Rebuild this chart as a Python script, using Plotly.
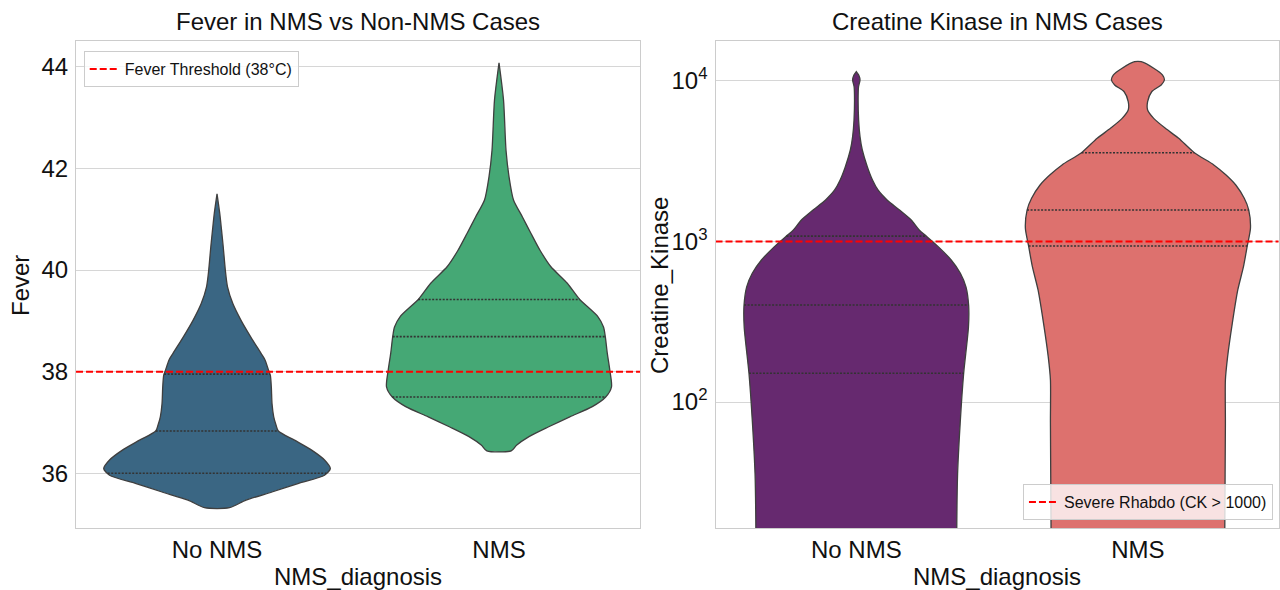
import numpy as np
import plotly.graph_objects as go

categories = ["No NMS", "NMS"]

# Fever violins: levels (°C) and density half-width (px-proportional)
fever_no_levels = [35.32, 35.47, 35.63, 35.80, 35.96, 36.09, 36.26, 36.45, 36.65, 36.83, 36.95,
                   37.11, 37.37, 37.70, 37.93, 38.03, 38.23, 38.36, 38.69, 39.01, 39.34, 39.67,
                   40.00, 40.46, 40.79, 41.12, 41.50]
fever_no_density = [12.5, 29, 55, 81.7, 107.5, 113.3, 107.5, 95, 77.5, 61.3, 59,
                    56.7, 55, 54.3, 53.3, 51.5, 48, 44, 33.5, 24, 15.8, 10.5,
                    8.3, 6.2, 4.5, 2.7, 0]
fever_nms_levels = [36.44, 36.55, 36.72, 36.91, 37.11, 37.31, 37.50, 37.70, 38.03, 38.36, 38.69,
                    38.88, 39.08, 39.43, 39.74, 40.07, 40.39, 40.72, 41.05, 41.38, 41.84, 42.36,
                    43.35, 44.08]
fever_nms_density = [12.2, 17.5, 30, 49.2, 70.8, 93.3, 106.7, 112.5, 110.8, 108.3, 106.3,
                     104.5, 99, 80.3, 68.3, 51.7, 41, 32, 23.3, 14.5, 10, 7,
                     4.5, 0]
fever_no_quartiles = [36.00, 36.83, 37.95]
fever_nms_quartiles = [37.50, 38.69, 39.42]

# Creatine kinase violins (CK units, log axis)
ck_no_levels = [12.6, 16.4, 35.5, 73.6, 151, 294, 398, 522, 634, 767, 929, 1081, 1180, 1361,
                1570, 1816, 2094, 2415, 2924, 3715, 4498, 5715, 7621, 9204, 10139, 10839, 11429]
ck_no_density = [100.6, 100.6, 101.4, 104, 107.5, 112.3, 112.5, 109.8, 104.2, 95, 82, 70, 63, 55,
                 43.3, 30.8, 21.7, 16.2, 11, 6, 3.7, 2.3, 1.8, 2.2, 3.7, 2.5, 0]
ck_nms_levels = [12.6, 16.4, 73.6, 137, 191, 309, 499, 697, 938, 1208, 1570, 1858, 2249, 2594,
                 2999, 3573, 4395, 5070, 5848, 6592, 7430, 8570, 9441, 10139, 10889, 11995, 13183]
ck_nms_density = [87, 87, 87.6, 87.6, 89.8, 94.5, 100, 105.7, 109.5, 112.7, 111, 106.5, 98, 88.3,
                  76, 56.5, 40.8, 27.5, 15.8, 9.7, 9.7, 13.8, 23.3, 26.5, 24.7, 15.8, 3.3]
ck_no_quartiles = [151, 402, 1081]
ck_nms_quartiles = [938, 1570, 3573]

fever_threshold = 38
ck_threshold = 1000

colors_fever = ["#3A6683", "#45A875"]
colors_ck = ["#66296F", "#DD716E"]

FONT = "Liberation Sans, Arial, sans-serif"
TXT = "#111111"
EDGE = "#3f3f3f"
GRID = "#d6d6d6"
HALF = 0.4
DMAX = 112.8

fig = go.Figure()


def add_violin(center, levels, dens, quarts, color, xa, ya, log=False):
    d = np.array(dens, dtype=float) / DMAX * HALF
    lv = np.array(levels, dtype=float)
    xs = list(center - d) + list(center + d[::-1]) + [center - d[0]]
    ys = list(lv) + list(lv[::-1]) + [lv[0]]
    fig.add_trace(go.Scatter(x=xs, y=ys, mode="lines", fill="toself", fillcolor=color,
                             line=dict(color=EDGE, width=1.3, shape="spline", smoothing=0.7),
                             showlegend=False, hoverinfo="skip", xaxis=xa, yaxis=ya))
    for q in quarts:
        if log:
            w = np.interp(np.log10(q), np.log10(lv), d)
        else:
            w = np.interp(q, lv, d)
        fig.add_trace(go.Scatter(x=[center - w, center + w], y=[q, q], mode="lines",
                                 line=dict(color="#333333", width=1.6, dash="2px,1.5px"),
                                 showlegend=False, hoverinfo="skip", xaxis=xa, yaxis=ya))


add_violin(0, fever_no_levels, fever_no_density, fever_no_quartiles, colors_fever[0], "x", "y")
add_violin(1, fever_nms_levels, fever_nms_density, fever_nms_quartiles, colors_fever[1], "x", "y")
add_violin(0, ck_no_levels, ck_no_density, ck_no_quartiles, colors_ck[0], "x2", "y2", log=True)
add_violin(1, ck_nms_levels, ck_nms_density, ck_nms_quartiles, colors_ck[1], "x2", "y2", log=True)

fig.add_trace(go.Scatter(x=[-0.5, 1.5], y=[fever_threshold] * 2, mode="lines",
                         line=dict(color="red", width=2, dash="7px,3px"),
                         name="Fever Threshold (38°C)", xaxis="x", yaxis="y", legend="legend"))
fig.add_trace(go.Scatter(x=[-0.5, 1.5], y=[ck_threshold] * 2, mode="lines",
                         line=dict(color="red", width=2, dash="7px,3px"),
                         name="Severe Rhabdo (CK > 1000)", xaxis="x2", yaxis="y2", legend="legend2"))

axis_common = dict(showline=True, mirror=True, linecolor="#cccccc", linewidth=1.3,
                   zeroline=False, tickfont=dict(size=24, color=TXT, family=FONT))
yticks = dict(ticks="outside", ticklen=2, tickcolor="rgba(0,0,0,0)")

L_DOM = [0.0594, 0.5]
R_DOM = [0.559, 0.999]
Y_DOM = [0.105, 0.9305]

fig.update_layout(
    width=1280, height=590, margin=dict(l=0, r=0, t=0, b=0),
    paper_bgcolor="white", plot_bgcolor="white",
    font=dict(family=FONT, color=TXT),
    xaxis=dict(domain=L_DOM, range=[-0.5, 1.5], tickvals=[0, 1], ticktext=categories,
               showgrid=False, anchor="y", **axis_common),
    yaxis=dict(domain=Y_DOM, range=[34.92, 44.51], tickvals=[36, 38, 40, 42, 44],
               showgrid=True, gridcolor=GRID, gridwidth=1.2, anchor="x", **yticks, **axis_common),
    xaxis2=dict(domain=R_DOM, range=[-0.5, 1.5], tickvals=[0, 1], ticktext=categories,
                showgrid=False, anchor="y2", **axis_common),
    yaxis2=dict(domain=Y_DOM, type="log", range=[1.215, 4.249],
                tickvals=[100, 1000, 10000],
                ticktext=["10<sup>2</sup>", "10<sup>3</sup>", "10<sup>4</sup>"],
                showgrid=True, gridcolor=GRID, gridwidth=1.2, anchor="x2", **yticks, **axis_common),
    legend=dict(x=0.0654, y=0.9136, xanchor="left", yanchor="top",
                bgcolor="rgba(255,255,255,0.8)", bordercolor="#cccccc", borderwidth=1,
                font=dict(size=16, color=TXT, family=FONT)),
    legend2=dict(x=0.9945, y=0.1186, xanchor="right", yanchor="bottom",
                 bgcolor="rgba(255,255,255,0.8)", bordercolor="#cccccc", borderwidth=1,
                 font=dict(size=16, color=TXT, family=FONT)),
)

tf = dict(size=24, color=TXT, family=FONT)
ann = [
    dict(text="Fever in NMS vs Non-NMS Cases", x=sum(L_DOM) / 2, y=1 - 22 / 590),
    dict(text="Creatine Kinase in NMS Cases", x=sum(R_DOM) / 2, y=1 - 22 / 590),
    dict(text="NMS_diagnosis", x=sum(L_DOM) / 2, y=1 - 576 / 590),
    dict(text="NMS_diagnosis", x=sum(R_DOM) / 2, y=1 - 576 / 590),
    dict(text="Fever", x=20 / 1280, y=1 - 286 / 590, textangle=-90),
    dict(text="Creatine_Kinase", x=659 / 1280, y=1 - 286 / 590, textangle=-90),
]
for a in ann:
    a.update(xref="paper", yref="paper", showarrow=False, xanchor="center", yanchor="middle", font=tf)
fig.update_layout(annotations=ann)

fig.write_html("out.html")
